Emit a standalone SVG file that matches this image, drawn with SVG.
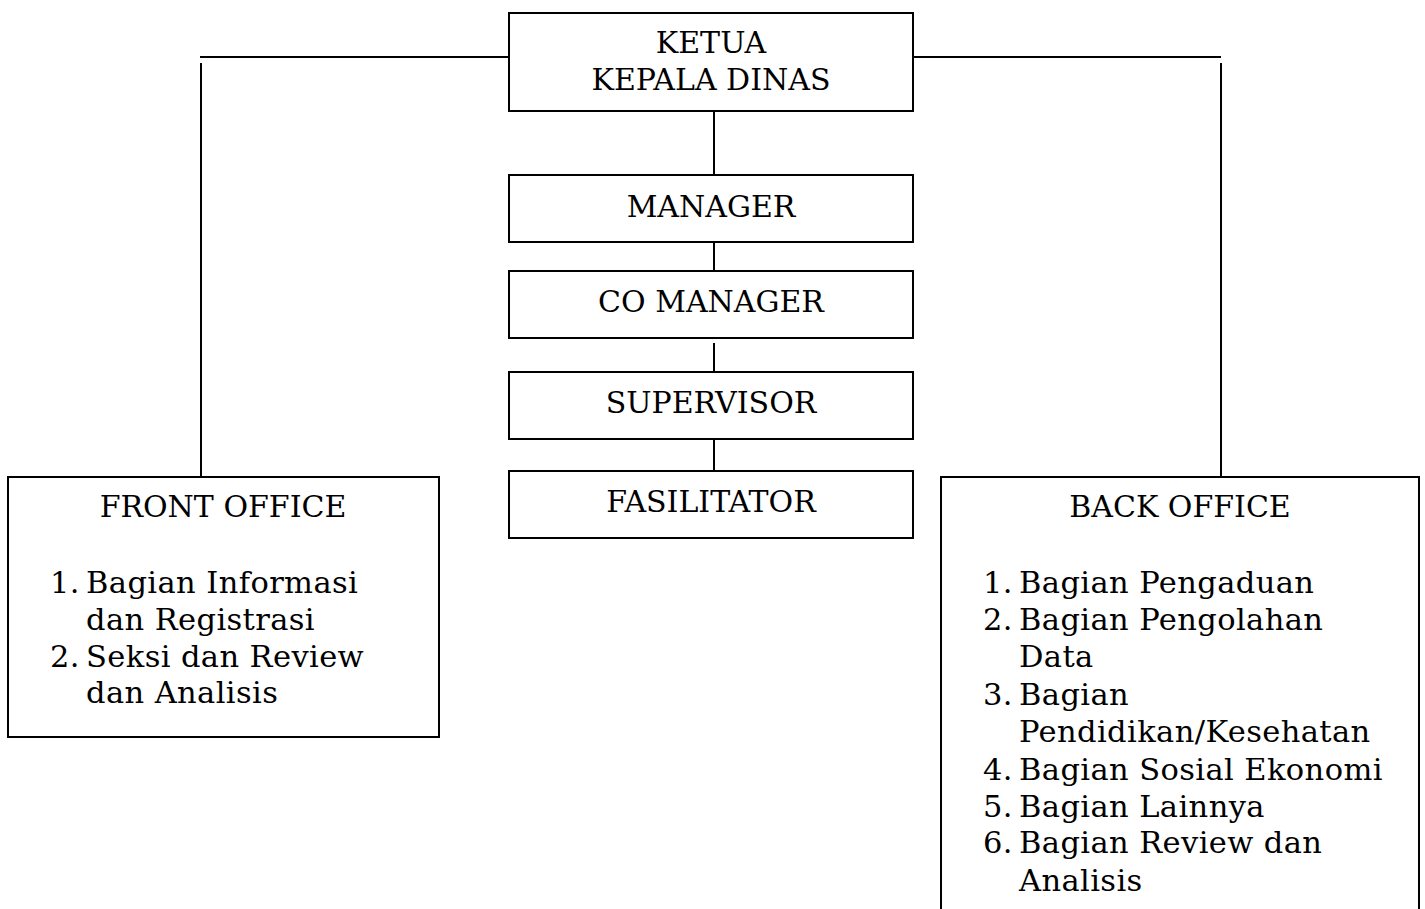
<svg xmlns="http://www.w3.org/2000/svg" width="1425" height="909" viewBox="0 0 1425 909">
<style>
.box{fill:#fff;stroke:#000;stroke-width:2}
.ln{stroke:#000;stroke-width:2;fill:none}
text{font-family:"DejaVu Serif","Liberation Serif",serif;font-size:30px;fill:#000}
.c{text-anchor:middle}
.li{font-size:30.5px;letter-spacing:0.4px}
</style>
<rect width="1425" height="909" fill="#fff"/>
<g id="connectors">
<line class="ln" x1="200" y1="57" x2="509" y2="57"/>
<line class="ln" x1="201" y1="63" x2="201" y2="477"/>
<line class="ln" x1="913" y1="57" x2="1221" y2="57"/>
<line class="ln" x1="1221" y1="63" x2="1221" y2="477"/>
<line class="ln" x1="714" y1="111" x2="714" y2="175"/>
<line class="ln" x1="714" y1="242" x2="714" y2="271"/>
<line class="ln" x1="714" y1="343" x2="714" y2="372"/>
<line class="ln" x1="714" y1="439" x2="714" y2="471"/>
</g>
<g id="ketua">
<rect class="box" x="509" y="13" width="404" height="98"/>
<text class="c" x="711" y="53">KETUA</text>
<text class="c" x="711" y="90">KEPALA DINAS</text>
</g>
<g id="manager">
<rect class="box" x="509" y="175" width="404" height="67"/>
<text class="c" x="711" y="217">MANAGER</text>
</g>
<g id="co-manager">
<rect class="box" x="509" y="271" width="404" height="67"/>
<text class="c" x="711" y="312">CO MANAGER</text>
</g>
<g id="supervisor">
<rect class="box" x="509" y="372" width="404" height="67"/>
<text class="c" x="711" y="413">SUPERVISOR</text>
</g>
<g id="fasilitator">
<rect class="box" x="509" y="471" width="404" height="67"/>
<text class="c" x="711" y="512">FASILITATOR</text>
</g>
<g id="front-office">
<rect class="box" x="8" y="477" width="431" height="260"/>
<text class="c" x="223" y="517">FRONT OFFICE</text>
<text class="li" x="50" y="593">1.</text><text class="li" x="86" y="593">Bagian Informasi</text>
<text class="li" x="86" y="630">dan Registrasi</text>
<text class="li" x="50" y="667">2.</text><text class="li" x="86" y="667">Seksi dan Review</text>
<text class="li" x="86" y="703">dan Analisis</text>
</g>
<g id="back-office">
<rect class="box" x="941" y="477" width="478" height="450"/>
<text class="c" x="1180" y="517">BACK OFFICE</text>
<text class="li" x="983" y="593">1.</text><text class="li" x="1019" y="593">Bagian Pengaduan</text>
<text class="li" x="983" y="630">2.</text><text class="li" x="1019" y="630">Bagian Pengolahan</text>
<text class="li" x="1019" y="667">Data</text>
<text class="li" x="983" y="705">3.</text><text class="li" x="1019" y="705">Bagian</text>
<text class="li" x="1019" y="742">Pendidikan/Kesehatan</text>
<text class="li" x="983" y="780">4.</text><text class="li" x="1019" y="780">Bagian Sosial Ekonomi</text>
<text class="li" x="983" y="817">5.</text><text class="li" x="1019" y="817">Bagian Lainnya</text>
<text class="li" x="983" y="853">6.</text><text class="li" x="1019" y="853">Bagian Review dan</text>
<text class="li" x="1019" y="891">Analisis</text>
</g>
</svg>
